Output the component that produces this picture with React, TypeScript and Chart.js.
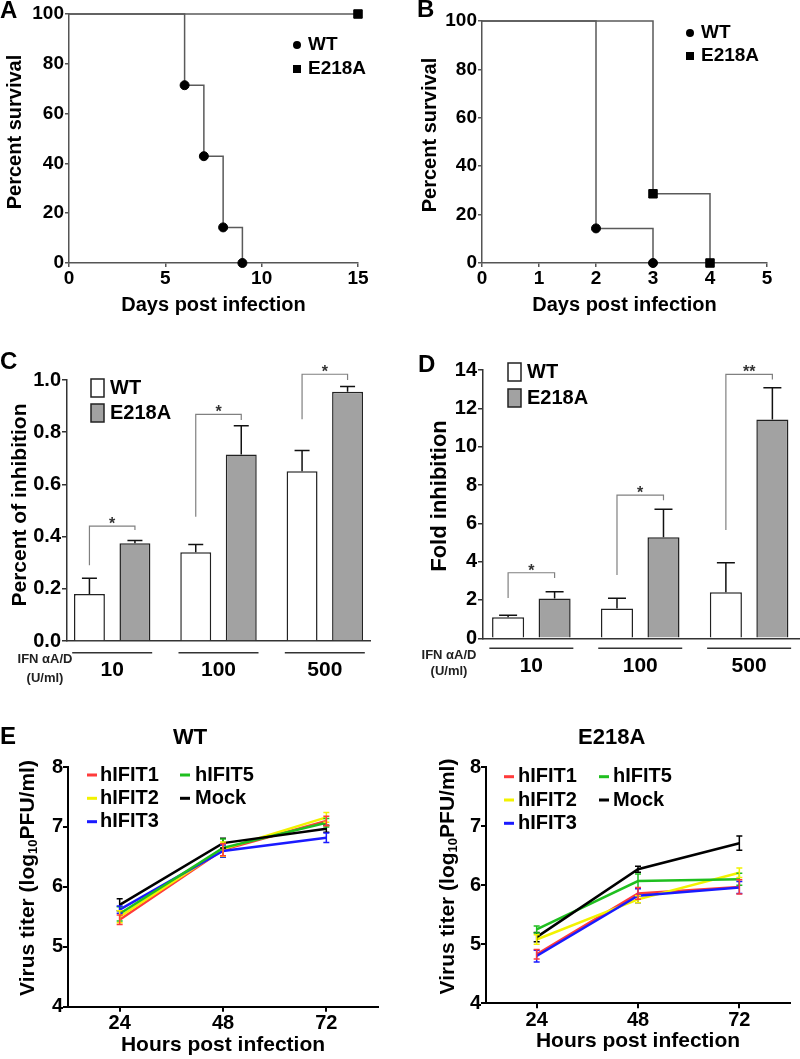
import React, { useEffect, useRef } from 'react';
import { Chart, registerables } from 'chart.js';

Chart.register(...registerables);

const FONT = '"Liberation Sans", Arial, Helvetica, sans-serif';

// ---------- Panel A: survival ----------
const aDaysWT = [0, 6, 7, 8, 9];
const aSurvWT = [100, 71.4, 42.9, 14.3, 0];
const aDaysE218A = [0, 15];
const aSurvE218A = [100, 100];

// ---------- Panel B: survival ----------
const bDaysWT = [0, 2, 3];
const bSurvWT = [100, 14.3, 0];
const bDaysE218A = [0, 3, 4];
const bSurvE218A = [100, 28.6, 0];

// ---------- Panels C / D: IFN doses ----------
const ifnDoses = ['10', '100', '500'];

const cWT = [0.18, 0.34, 0.65];
const cWTErr = [0.06, 0.03, 0.08];
const cE218A = [0.375, 0.715, 0.955];
const cE218AErr = [0.01, 0.11, 0.02];
const cSigTop = [0.44, 0.868, 1.022];
const cSigLeft = [0.29, 0.476, 0.85];
const cSigRight = [0.425, 0.847, 1.0];
const cSigStars = ['*', '*', '*'];

const dWT = [1.1, 1.56, 2.4];
const dWTErr = [0.1, 0.53, 1.54];
const dE218A = [2.08, 5.27, 11.42];
const dE218AErr = [0.35, 1.46, 1.65];
const dSigTop = [3.42, 7.47, 13.77];
const dSigLeft = [2.1, 3.3, 5.65];
const dSigRight = [3.15, 7.2, 13.5];
const dSigStars = ['*', '*', '**'];

// ---------- Panel E: virus titer ----------
const eHours = [24, 48, 72];
const eSeries = ['hIFIT1', 'hIFIT2', 'hIFIT3', 'hIFIT5', 'Mock'];
const eColors = ['#ff3b3b', '#f2f200', '#1a1aff', '#1fbf1f', '#000000'];
const eOrder = [4, 3, 2, 1, 0];

const eWT_hIFIT1 = [5.45, 6.62, 7.1];
const eWT_hIFIT2 = [5.5, 6.63, 7.16];
const eWT_hIFIT3 = [5.62, 6.6, 6.82];
const eWT_hIFIT5 = [5.55, 6.65, 7.07];
const eWT_Mock = [5.7, 6.73, 6.97];
const eWTErr_hIFIT1 = [0.08, 0.1, 0.08];
const eWTErr_hIFIT2 = [0.1, 0.12, 0.08];
const eWTErr_hIFIT3 = [0.06, 0.1, 0.08];
const eWTErr_hIFIT5 = [0.12, 0.15, 0.07];
const eWTErr_Mock = [0.1, 0.08, 0.06];

const eMut_hIFIT1 = [4.83, 5.86, 5.97];
const eMut_hIFIT2 = [5.08, 5.76, 6.21];
const eMut_hIFIT3 = [4.8, 5.82, 5.96];
const eMut_hIFIT5 = [5.25, 6.07, 6.1];
const eMut_Mock = [5.12, 6.27, 6.71];
const eMutErr_hIFIT1 = [0.08, 0.1, 0.12];
const eMutErr_hIFIT2 = [0.08, 0.06, 0.08];
const eMutErr_hIFIT3 = [0.1, 0.12, 0.1];
const eMutErr_hIFIT5 = [0.06, 0.12, 0.1];
const eMutErr_Mock = [0.08, 0.05, 0.12];

// ---------- helpers ----------
const AXIS = '#555';
const AXIS2 = '#333';
const GRAYBAR = '#a2a2a2';

function txt(ctx: any, s: string, x: number, y: number, size: number, align = 'left', color = '#000', baseline = 'middle') {
  ctx.save();
  ctx.font = `bold ${size}px ${FONT}`;
  ctx.fillStyle = color;
  ctx.textAlign = align;
  ctx.textBaseline = baseline;
  ctx.fillText(s, x, y);
  ctx.restore();
}

function rotText(ctx: any, s: string, cx: number, cy: number, size: number) {
  ctx.save();
  ctx.translate(cx, cy);
  ctx.rotate(-Math.PI / 2);
  ctx.font = `bold ${size}px ${FONT}`;
  ctx.fillStyle = '#000';
  ctx.textAlign = 'center';
  ctx.textBaseline = 'middle';
  ctx.fillText(s, 0, 0);
  ctx.restore();
}

function titerTitle(ctx: any, cx: number, cy: number) {
  const main = `bold 21px ${FONT}`;
  const sub = `bold 13px ${FONT}`;
  const parts: [string, string, number][] = [
    ['Virus titer (log', main, 0],
    ['10', sub, 5],
    ['PFU/ml)', main, 0],
  ];
  ctx.save();
  ctx.translate(cx, cy);
  ctx.rotate(-Math.PI / 2);
  let total = 0;
  parts.forEach(([t, f]) => {
    ctx.font = f;
    total += ctx.measureText(t).width;
  });
  let x = -total / 2;
  ctx.fillStyle = '#000';
  ctx.textAlign = 'left';
  ctx.textBaseline = 'middle';
  parts.forEach(([t, f, dy]) => {
    ctx.font = f;
    ctx.fillText(t, x, dy);
    x += ctx.measureText(t).width;
  });
  ctx.restore();
}

const tickFont = (size: number) => ({ family: FONT, size, weight: 'bold' as const });

function decor(id: string, fn: (chart: any, ctx: any) => void) {
  return { id, afterDraw: (chart: any) => fn(chart, chart.ctx) };
}

// ---------- survival (A, B) ----------
function survivalConfig(o: any) {
  const ds = (label: string, xs: number[], ys: number[], style: string, r: number) => ({
    label,
    data: xs.map((d, i) => ({ x: d, y: ys[i] })),
    stepped: 'before',
    borderColor: '#5a5a5a',
    borderWidth: 1.5,
    pointStyle: style,
    pointRadius: ys.map((_, i) => (i === 0 ? 0 : r)),
    pointBackgroundColor: '#000',
    pointBorderColor: '#000',
    pointBorderWidth: 1,
    fill: false,
    clip: false,
  });
  return {
    type: 'line',
    data: {
      datasets: [
        ds('WT', o.wtX, o.wtY, 'circle', 4.5),
        ds('E218A', o.eX, o.eY, 'rect', 6),
      ],
    },
    options: {
      responsive: false,
      animation: false,
      devicePixelRatio: 1,
      events: [],
      layout: { padding: { left: 0, top: o.padTop, right: o.padRight, bottom: 0 } },
      plugins: { legend: { display: false }, tooltip: { enabled: false } },
      scales: {
        x: {
          type: 'linear',
          min: 0,
          max: o.xMax,
          ticks: { stepSize: o.xStep, autoSkip: false, maxRotation: 0, padding: 0, color: '#000', font: tickFont(19) },
          grid: { drawOnChartArea: false, drawTicks: true, tickLength: 4, color: AXIS, lineWidth: 1.5 },
          border: { display: true, color: AXIS, width: 1.5 },
          title: { display: true, text: 'Days post infection', color: '#000', font: tickFont(20), padding: { top: 0, bottom: 3 } },
          afterFit: (s: any) => { s.height = 57; },
        },
        y: {
          min: 0,
          max: 100,
          ticks: { stepSize: 20, padding: 1, color: '#000', font: tickFont(19) },
          grid: { drawOnChartArea: false, drawTicks: true, tickLength: 4, color: AXIS, lineWidth: 1.5 },
          border: { display: true, color: AXIS, width: 1.5 },
          afterFit: (s: any) => { s.width = o.yWidth; },
        },
      },
    },
    plugins: [
      decor('dec' + o.letter, (chart, ctx) => {
        txt(ctx, o.letter, o.letterX, o.letterY, 24);
        rotText(ctx, 'Percent survival', o.yTitleX, o.yTitleY, 20);
        ctx.save();
        ctx.fillStyle = '#000';
        ctx.beginPath();
        ctx.arc(o.legX, o.legY1, 4, 0, Math.PI * 2);
        ctx.fill();
        ctx.fillRect(o.legX - 4, o.legY2 - 4, 8, 8);
        ctx.restore();
        txt(ctx, 'WT', o.legX + 11, o.legY1, 19);
        txt(ctx, 'E218A', o.legX + 11, o.legY2, 19);
      }),
    ],
  };
}

// ---------- bars (C, D) ----------
function barConfig(o: any) {
  return {
    type: 'bar',
    data: {
      datasets: [
        {
          label: 'WT',
          data: o.wt.map((v: number, i: number) => ({ x: i, y: v })),
          backgroundColor: '#ffffff',
          borderColor: '#222',
          borderWidth: 1.5,
          barPercentage: o.bp,
          categoryPercentage: o.cp,
        },
        {
          label: 'E218A',
          data: o.mut.map((v: number, i: number) => ({ x: i, y: v })),
          backgroundColor: GRAYBAR,
          borderColor: '#222',
          borderWidth: 1.5,
          barPercentage: o.bp,
          categoryPercentage: o.cp,
        },
      ],
    },
    options: {
      responsive: false,
      animation: false,
      devicePixelRatio: 1,
      events: [],
      layout: { padding: { left: 0, top: o.padTop, right: o.padRight, bottom: 0 } },
      plugins: { legend: { display: false }, tooltip: { enabled: false } },
      scales: {
        x: {
          type: 'linear',
          min: o.xMin,
          max: o.xMax,
          offset: false,
          afterBuildTicks: (s: any) => { s.ticks = ifnDoses.map((_, i) => ({ value: i })); },
          ticks: {
            callback: (v: any) => ifnDoses[Number(v)] ?? '',
            autoSkip: false,
            maxRotation: 0,
            padding: o.xLabelPad,
            color: '#000',
            font: tickFont(21),
          },
          grid: { display: false, drawTicks: false, drawOnChartArea: false, offset: false },
          border: { display: true, color: AXIS2, width: 1.5 },
          afterFit: (s: any) => { s.height = o.xHeight; },
        },
        y: {
          min: 0,
          max: o.yMax,
          ticks: { stepSize: o.yStep, padding: 1, color: '#000', font: tickFont(20), callback: o.yFmt },
          grid: { drawOnChartArea: false, drawTicks: true, tickLength: 5, color: AXIS2, lineWidth: 1.5 },
          border: { display: true, color: AXIS2, width: 1.5 },
          afterFit: (s: any) => { s.width = o.yWidth; },
        },
      },
    },
    plugins: [
      {
        id: 'err' + o.letter,
        afterDatasetsDraw: (chart: any) => {
          const ctx = chart.ctx;
          const y = chart.scales.y;
          const errs = [o.wtErr, o.mutErr];
          ctx.save();
          ctx.strokeStyle = '#111';
          ctx.lineWidth = 1.5;
          [0, 1].forEach((di) => {
            const meta = chart.getDatasetMeta(di);
            const vals = di === 0 ? o.wt : o.mut;
            meta.data.forEach((el: any, i: number) => {
              const base = y.getPixelForValue(vals[i]);
              const top = y.getPixelForValue(vals[i] + errs[di][i]);
              ctx.beginPath();
              ctx.moveTo(el.x, base);
              ctx.lineTo(el.x, top);
              ctx.moveTo(el.x - o.cap / 2, top);
              ctx.lineTo(el.x + o.cap / 2, top);
              ctx.stroke();
            });
          });
          // significance brackets
          const m0 = chart.getDatasetMeta(0);
          const m1 = chart.getDatasetMeta(1);
          ctx.strokeStyle = '#808080';
          ctx.lineWidth = 1.2;
          ifnDoses.forEach((_, i) => {
            const xl = m0.data[i].x;
            const xr = m1.data[i].x;
            const yt = y.getPixelForValue(o.sigTop[i]);
            ctx.beginPath();
            ctx.moveTo(xl, y.getPixelForValue(o.sigLeft[i]));
            ctx.lineTo(xl, yt);
            ctx.lineTo(xr, yt);
            ctx.lineTo(xr, y.getPixelForValue(o.sigRight[i]));
            ctx.stroke();
            txt(ctx, o.sigStars[i], (xl + xr) / 2, yt + 3, 16, 'center', '#333', 'alphabetic');
          });
          ctx.restore();
        },
      },
      decor('dec' + o.letter, (chart, ctx) => {
        txt(ctx, o.letter, o.letterX, o.letterY, 24);
        rotText(ctx, o.yTitle, o.yTitleX, o.yTitleY, o.yTitleSize);
        const xs = chart.scales.x;
        ctx.save();
        ctx.strokeStyle = AXIS2;
        ctx.lineWidth = 1.5;
        ifnDoses.forEach((_, i) => {
          const cx = xs.getPixelForValue(i);
          ctx.beginPath();
          ctx.moveTo(cx - o.groupHalf, o.groupLineY);
          ctx.lineTo(cx + o.groupHalf, o.groupLineY);
          ctx.stroke();
        });
        // legend boxes
        ctx.lineWidth = 1.5;
        ctx.strokeStyle = '#222';
        ctx.fillStyle = '#fff';
        ctx.fillRect(o.legX, o.legY1 - 9, 13, 18);
        ctx.strokeRect(o.legX, o.legY1 - 9, 13, 18);
        ctx.fillStyle = GRAYBAR;
        ctx.fillRect(o.legX, o.legY2 - 9, 13, 18);
        ctx.strokeRect(o.legX, o.legY2 - 9, 13, 18);
        ctx.restore();
        txt(ctx, 'WT', o.legX + 19, o.legY1, 20);
        txt(ctx, 'E218A', o.legX + 19, o.legY2, 20);
        txt(ctx, 'IFN \u03b1A/D', o.ifnX, o.ifnY1, 13, 'center', '#222');
        txt(ctx, '(U/ml)', o.ifnX, o.ifnY2, 13, 'center', '#222');
      }),
    ],
  };
}

// ---------- titers (E) ----------
function titerConfig(o: any) {
  return {
    type: 'line',
    data: {
      datasets: eSeries.map((name, si) => ({
        label: name,
        data: eHours.map((h, i) => ({ x: h, y: o.values[si][i] })),
        borderColor: eColors[si],
        backgroundColor: eColors[si],
        borderWidth: 2.5,
        pointRadius: 0,
        tension: 0,
        fill: false,
        clip: false,
        order: eOrder[si],
      })),
    },
    options: {
      responsive: false,
      animation: false,
      devicePixelRatio: 1,
      events: [],
      layout: { padding: { left: 0, top: o.padTop, right: o.padRight, bottom: 0 } },
      plugins: { legend: { display: false }, tooltip: { enabled: false } },
      scales: {
        x: {
          type: 'linear',
          min: 12,
          max: 84,
          afterBuildTicks: (s: any) => { s.ticks = eHours.map((h) => ({ value: h })); },
          ticks: { autoSkip: false, maxRotation: 0, padding: 0, color: '#000', font: tickFont(20) },
          grid: { drawOnChartArea: false, drawTicks: true, tickLength: 5, color: '#000', lineWidth: 2 },
          border: { display: true, color: '#000', width: 2 },
          title: { display: true, text: 'Hours post infection', color: '#000', font: tickFont(21), padding: { top: 0, bottom: o.xTitlePad } },
          afterFit: (s: any) => { s.height = o.xHeight; },
        },
        y: {
          min: 4,
          max: 8,
          ticks: { stepSize: 1, padding: 0, color: '#000', font: tickFont(20) },
          grid: { drawOnChartArea: false, drawTicks: true, tickLength: 5, color: '#000', lineWidth: 2 },
          border: { display: true, color: '#000', width: 2 },
          afterFit: (s: any) => { s.width = o.yWidth; },
        },
      },
    },
    plugins: [
      {
        id: 'eerr' + o.title,
        afterDatasetsDraw: (chart: any) => {
          const ctx = chart.ctx;
          const xs = chart.scales.x;
          const ys = chart.scales.y;
          ctx.save();
          ctx.lineWidth = 1.5;
          [4, 3, 2, 1, 0].forEach((si) => {
            ctx.strokeStyle = eColors[si];
            eHours.forEach((h, i) => {
              const x = xs.getPixelForValue(h);
              const v = o.values[si][i];
              const e = o.errs[si][i];
              const y1 = ys.getPixelForValue(v + e);
              const y2 = ys.getPixelForValue(v - e);
              ctx.beginPath();
              ctx.moveTo(x, y1);
              ctx.lineTo(x, y2);
              ctx.moveTo(x - 3, y1);
              ctx.lineTo(x + 3, y1);
              ctx.moveTo(x - 3, y2);
              ctx.lineTo(x + 3, y2);
              ctx.stroke();
            });
          });
          ctx.restore();
        },
      },
      decor('edec' + o.title, (chart, ctx) => {
        if (o.letter) txt(ctx, o.letter, 0, o.letterY, 24);
        txt(ctx, o.title, o.titleX, 38, 22, 'center');
        titerTitle(ctx, o.yTitleX, o.yTitleY);
        const cols = [
          { dash: o.col1Dash, text: o.col1Text, items: [0, 1, 2] },
          { dash: o.col2Dash, text: o.col2Text, items: [3, 4] },
        ];
        cols.forEach((c) => {
          c.items.forEach((si, r) => {
            const y = o.legRows[r];
            ctx.save();
            ctx.fillStyle = eColors[si];
            ctx.fillRect(c.dash, y - 1.5, 10, 3);
            ctx.restore();
            txt(ctx, eSeries[si], c.text, y, 20);
          });
        });
      }),
    ],
  };
}

// ---------- configs ----------
const configA = () =>
  survivalConfig({
    wtX: aDaysWT, wtY: aSurvWT, eX: aDaysE218A, eY: aSurvE218A,
    xMax: 15, xStep: 5, padTop: 14, padRight: 42, yWidth: 69,
    letter: 'A', letterX: 0, letterY: 11,
    yTitleX: 15.5, yTitleY: 132,
    legX: 297, legY1: 45, legY2: 69,
  });

const configB = () =>
  survivalConfig({
    wtX: bDaysWT, wtY: bSurvWT, eX: bDaysE218A, eY: bSurvE218A,
    xMax: 5, xStep: 1, padTop: 21, padRight: 33, yWidth: 82,
    letter: 'B', letterX: 17, letterY: 10,
    yTitleX: 30.5, yTitleY: 135,
    legX: 290, legY1: 33, legY2: 56,
  });

const configC = () =>
  barConfig({
    letter: 'C', letterX: 0, letterY: 42,
    wt: cWT, wtErr: cWTErr, mut: cE218A, mutErr: cE218AErr,
    sigTop: cSigTop, sigLeft: cSigLeft, sigRight: cSigRight, sigStars: cSigStars,
    xMin: -0.425, xMax: 2.425, bp: 0.68, cp: 0.856,
    padTop: 60, padRight: 30, yWidth: 67, xHeight: 59, xLabelPad: 17,
    yMax: 1, yStep: 0.2, yFmt: (v: any) => Number(v).toFixed(1),
    yTitle: 'Percent of inhibition', yTitleX: 20.5, yTitleY: 185, yTitleSize: 21,
    cap: 15, groupHalf: 40, groupLineY: 332.7,
    legX: 91, legY1: 68, legY2: 93,
    ifnX: 45, ifnY1: 339, ifnY2: 358,
  });

const configD = () =>
  barConfig({
    letter: 'D', letterX: 18, letterY: 45,
    wt: dWT, wtErr: dWTErr, mut: dE218A, mutErr: dE218AErr,
    sigTop: dSigTop, sigLeft: dSigLeft, sigRight: dSigRight, sigStars: dSigStars,
    xMin: -0.444, xMax: 2.458, bp: 0.69, cp: 0.854,
    padTop: 50, padRight: 1, yWidth: 83, xHeight: 61.7, xLabelPad: 15.8,
    yMax: 14, yStep: 2, yFmt: (v: any) => String(v),
    yTitle: 'Fold inhibition', yTitleX: 40, yTitleY: 176, yTitleSize: 22,
    cap: 18, groupHalf: 42, groupLineY: 328.3,
    legX: 108, legY1: 52, legY2: 78,
    ifnX: 49, ifnY1: 335, ifnY2: 351.7,
  });

const configEWT = () =>
  titerConfig({
    letter: 'E', letterY: 37,
    title: 'WT', titleX: 190,
    values: [eWT_hIFIT1, eWT_hIFIT2, eWT_hIFIT3, eWT_hIFIT5, eWT_Mock],
    errs: [eWTErr_hIFIT1, eWTErr_hIFIT2, eWTErr_hIFIT3, eWTErr_hIFIT5, eWTErr_Mock],
    padTop: 67, padRight: 22, yWidth: 68, xHeight: 52.3, xTitlePad: 1.4,
    yTitleX: 28.5, yTitleY: 178,
    col1Dash: 87, col1Text: 100, col2Dash: 180, col2Text: 195,
    legRows: [75, 98.3, 121.7],
  });

const configEMut = () =>
  titerConfig({
    letter: '', letterY: 0,
    title: 'E218A', titleX: 211.7,
    values: [eMut_hIFIT1, eMut_hIFIT2, eMut_hIFIT3, eMut_hIFIT5, eMut_Mock],
    errs: [eMutErr_hIFIT1, eMutErr_hIFIT2, eMutErr_hIFIT3, eMutErr_hIFIT5, eMutErr_Mock],
    padTop: 67, padRight: 10, yWidth: 86, xHeight: 55.7, xTitlePad: 4.7,
    yTitleX: 48.5, yTitleY: 176.5,
    col1Dash: 104, col1Text: 118, col2Dash: 199, col2Text: 213,
    legRows: [76.7, 100, 123.3],
  });

function ChartBox({ left, top, width, height, config }: any) {
  const ref = useRef<HTMLCanvasElement | null>(null);
  useEffect(() => {
    const chart = new Chart(ref.current as HTMLCanvasElement, config() as any);
    return () => chart.destroy();
  }, []);
  return (
    <div style={{ position: 'absolute', left, top, width, height }}>
      <canvas ref={ref} width={width} height={height} style={{ display: 'block', width, height }} />
    </div>
  );
}

export default function App() {
  return (
    <div style={{ position: 'absolute', left: 0, top: 0, width: 800, height: 1059, background: '#fff', overflow: 'hidden' }}>
      <ChartBox left={0} top={0} width={400} height={320} config={configA} />
      <ChartBox left={400} top={0} width={400} height={320} config={configB} />
      <ChartBox left={0} top={320} width={400} height={380} config={configC} />
      <ChartBox left={400} top={320} width={400} height={380} config={configD} />
      <ChartBox left={0} top={700} width={400} height={359} config={configEWT} />
      <ChartBox left={400} top={700} width={400} height={359} config={configEMut} />
    </div>
  );
}
